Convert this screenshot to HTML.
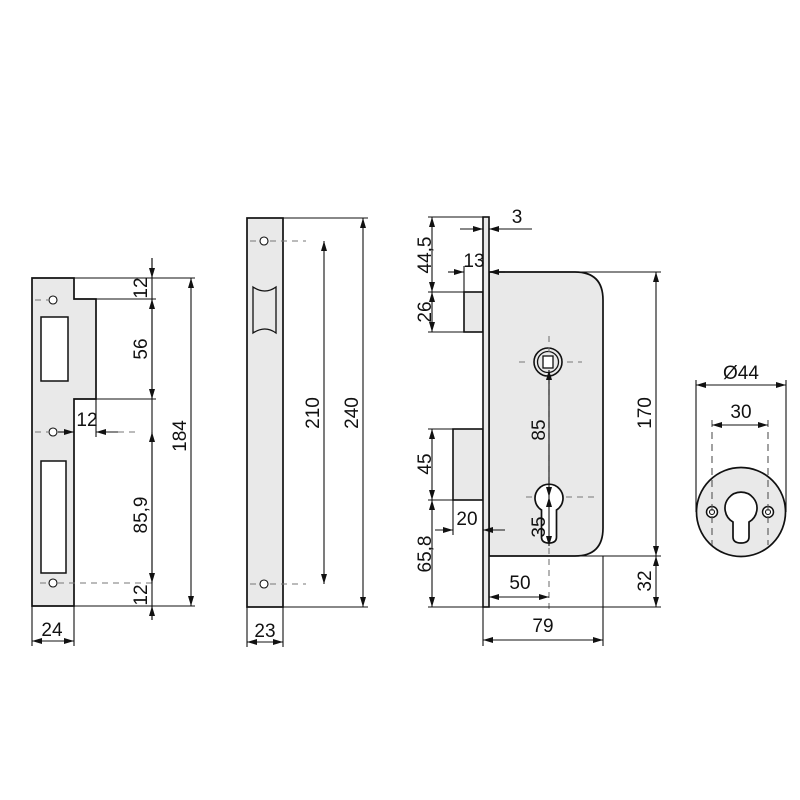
<!DOCTYPE html>
<html><head><meta charset="utf-8"><style>
html,body{margin:0;padding:0;background:#fff}
svg{display:block}
text{font-family:"Liberation Sans",Arial,sans-serif;font-size:19px;fill:#111}
</style></head><body>
<svg width="800" height="800" viewBox="0 0 800 800" xmlns="http://www.w3.org/2000/svg">
<defs>
<marker id="a" viewBox="0 0 10 6" refX="10" refY="3" markerWidth="10" markerHeight="6" markerUnits="userSpaceOnUse" orient="auto-start-reverse"><path d="M0,0L10,3L0,6z" fill="#111"/></marker>
</defs>
<g stroke="#111" stroke-width="1.1" fill="none">
<!-- LEFT STRIKE -->
<path d="M32,278H74V299H96V399H74V606H32Z" fill="#e9e9e9" stroke-width="1.7"/>
<rect x="41" y="317" width="27" height="64" fill="#fff" stroke-width="1.5"/>
<rect x="41" y="461" width="25" height="112" fill="#fff" stroke-width="1.5"/>
<circle cx="53" cy="300" r="4" fill="#fff"/>
<circle cx="53" cy="432" r="4" fill="#fff"/>
<circle cx="53" cy="583" r="4" fill="#fff"/>
<g stroke="#777" stroke-dasharray="6,5">
<path d="M35,300H48M35,432H48M58,432H74M96,432H140M40,583H48M58,583H155"/>
</g>
<path d="M74,278H195M96,299H156M96,399H156M74,606H195M96,399V437M32,606V646M74,606V646"/>
<path d="M152,258V620"/>
<path d="M152,258V278" marker-end="url(#a)"/>
<path d="M152,299V399" marker-start="url(#a)" marker-end="url(#a)"/>
<path d="M152,432V583" marker-start="url(#a)" marker-end="url(#a)"/>
<path d="M152,620V606" marker-end="url(#a)"/>
<path d="M191,278V606" marker-start="url(#a)" marker-end="url(#a)"/>
<path d="M58,432H74" marker-end="url(#a)"/>
<path d="M118,432H96" marker-end="url(#a)"/>
<path d="M32,641H74" marker-start="url(#a)" marker-end="url(#a)"/>
<!-- MIDDLE PLATE -->
<rect x="247" y="218" width="36" height="389" fill="#e9e9e9" stroke-width="1.7"/>
<path d="M253,287Q265,295 276,287V333Q265,325 253,333Z" fill="#e9e9e9" stroke-width="1.3"/>
<circle cx="264" cy="241" r="4" fill="#fff"/>
<circle cx="264" cy="584" r="4" fill="#fff"/>
<g stroke="#777" stroke-dasharray="6,5"><path d="M250,241H258M270,241H306M250,584H258M270,584H306"/></g>
<path d="M283,218H368M283,607H368M247,607V647M283,607V647"/>
<path d="M324,241V584" marker-start="url(#a)" marker-end="url(#a)"/>
<path d="M363,218V607" marker-start="url(#a)" marker-end="url(#a)"/>
<path d="M247,642H283" marker-start="url(#a)" marker-end="url(#a)"/>
<!-- LOCK BODY -->
<rect x="464" y="292" width="19" height="40" fill="#e9e9e9" stroke-width="1.6"/>
<rect x="453" y="429" width="30" height="71" fill="#e9e9e9" stroke-width="1.6"/>
<path d="M489,272H575Q603,272 603,300V528Q603,556 575,556H489Z" fill="#e9e9e9" stroke-width="1.7"/>
<rect x="483" y="217" width="6" height="390" fill="#e9e9e9" stroke-width="1.6"/>
<circle cx="548" cy="362" r="14" fill="#e9e9e9" stroke-width="1.6"/>
<circle cx="548" cy="362" r="10.5" stroke-width="1.3"/>
<rect x="543" y="356" width="10" height="12" fill="#fff" stroke-width="1.3"/>
<path d="M541.5,510A14,14 0 1 1 556.5,510V537Q556.5,543 549,543Q541.5,543 541.5,537Z" fill="#fff" stroke-width="1.7"/>
<g stroke="#777" stroke-dasharray="6,5"><path d="M549,336V352M549,378V490M549,548V612M519,362H530M567,362H582M526,497H532M566,497H594"/></g>
<path d="M428,217H483M428,292H464M428,332H464M428,429H453M428,500H453M428,607H483M464,266V292M453,500V535M483,607V646M603,556V646M575,272H661M489,556H661M489,607H661M489,229H532"/>
<path d="M432,217V292" marker-start="url(#a)" marker-end="url(#a)"/>
<path d="M432,292V332" marker-start="url(#a)" marker-end="url(#a)"/>
<path d="M432,429V500" marker-start="url(#a)" marker-end="url(#a)"/>
<path d="M432,500V607" marker-start="url(#a)" marker-end="url(#a)"/>
<path d="M460,229H483" marker-end="url(#a)"/>
<path d="M510,229H489" marker-end="url(#a)"/>
<path d="M448,272H464" marker-end="url(#a)"/>
<path d="M505,272H489" marker-end="url(#a)"/>
<path d="M435,530H453" marker-end="url(#a)"/>
<path d="M505,530H483" marker-end="url(#a)"/>
<path d="M489,597H549" marker-start="url(#a)" marker-end="url(#a)"/>
<path d="M483,640H603" marker-start="url(#a)" marker-end="url(#a)"/>
<path d="M656,272V556" marker-start="url(#a)" marker-end="url(#a)"/>
<path d="M656,556V607" marker-start="url(#a)" marker-end="url(#a)"/>
<path d="M549,370V497" marker-start="url(#a)" marker-end="url(#a)"/>
<path d="M549,497V546" marker-start="url(#a)" marker-end="url(#a)"/>
<!-- ROSETTE -->
<circle cx="741" cy="512" r="44.5" fill="#e9e9e9" stroke-width="1.7"/>
<path d="M733,522A16,16 0 1 1 749,522V537Q749,543 741,543Q733,543 733,537Z" fill="#fff" stroke-width="1.7"/>
<circle cx="712" cy="512" r="5.5" fill="#fff" stroke-width="1.5"/><circle cx="712" cy="512" r="2.5"/>
<circle cx="768" cy="512" r="5.5" fill="#fff" stroke-width="1.5"/><circle cx="768" cy="512" r="2.5"/>
<path d="M696,380V512M786,380V512"/>
<g stroke="#555" stroke-dasharray="7,5"><path d="M712,420V545M768,420V545"/></g>
<path d="M696,385H786" marker-start="url(#a)" marker-end="url(#a)"/>
<path d="M712,425H768" marker-start="url(#a)" marker-end="url(#a)"/>
</g>
<!-- LABELS -->
<g>
<text transform="translate(147,288) rotate(-90)" text-anchor="middle">12</text>
<text transform="translate(147,349) rotate(-90)" text-anchor="middle">56</text>
<text transform="translate(147,515) rotate(-90)" text-anchor="middle">85,9</text>
<text transform="translate(147,595) rotate(-90)" text-anchor="middle">12</text>
<text transform="translate(186,436) rotate(-90)" text-anchor="middle">184</text>
<text x="87" y="426" text-anchor="middle">12</text>
<text x="52" y="636" text-anchor="middle">24</text>
<text transform="translate(319,413) rotate(-90)" text-anchor="middle">210</text>
<text transform="translate(358,413) rotate(-90)" text-anchor="middle">240</text>
<text x="265" y="637" text-anchor="middle">23</text>
<text transform="translate(431,255) rotate(-90)" text-anchor="middle">44,5</text>
<text transform="translate(431,312) rotate(-90)" text-anchor="middle">26</text>
<text transform="translate(431,464) rotate(-90)" text-anchor="middle">45</text>
<text transform="translate(431,554) rotate(-90)" text-anchor="middle">65,8</text>
<text x="517" y="223" text-anchor="middle">3</text>
<text x="474" y="267" text-anchor="middle">13</text>
<text x="467" y="525" text-anchor="middle">20</text>
<text x="520" y="589" text-anchor="middle">50</text>
<text x="543" y="632" text-anchor="middle">79</text>
<text transform="translate(545,430) rotate(-90)" text-anchor="middle">85</text>
<text transform="translate(545,527) rotate(-90)" text-anchor="middle">35</text>
<text transform="translate(651,413) rotate(-90)" text-anchor="middle">170</text>
<text transform="translate(651,581) rotate(-90)" text-anchor="middle">32</text>
<text x="741" y="379" text-anchor="middle">Ø44</text>
<text x="741" y="418" text-anchor="middle">30</text>
</g>
</svg>
</body></html>
